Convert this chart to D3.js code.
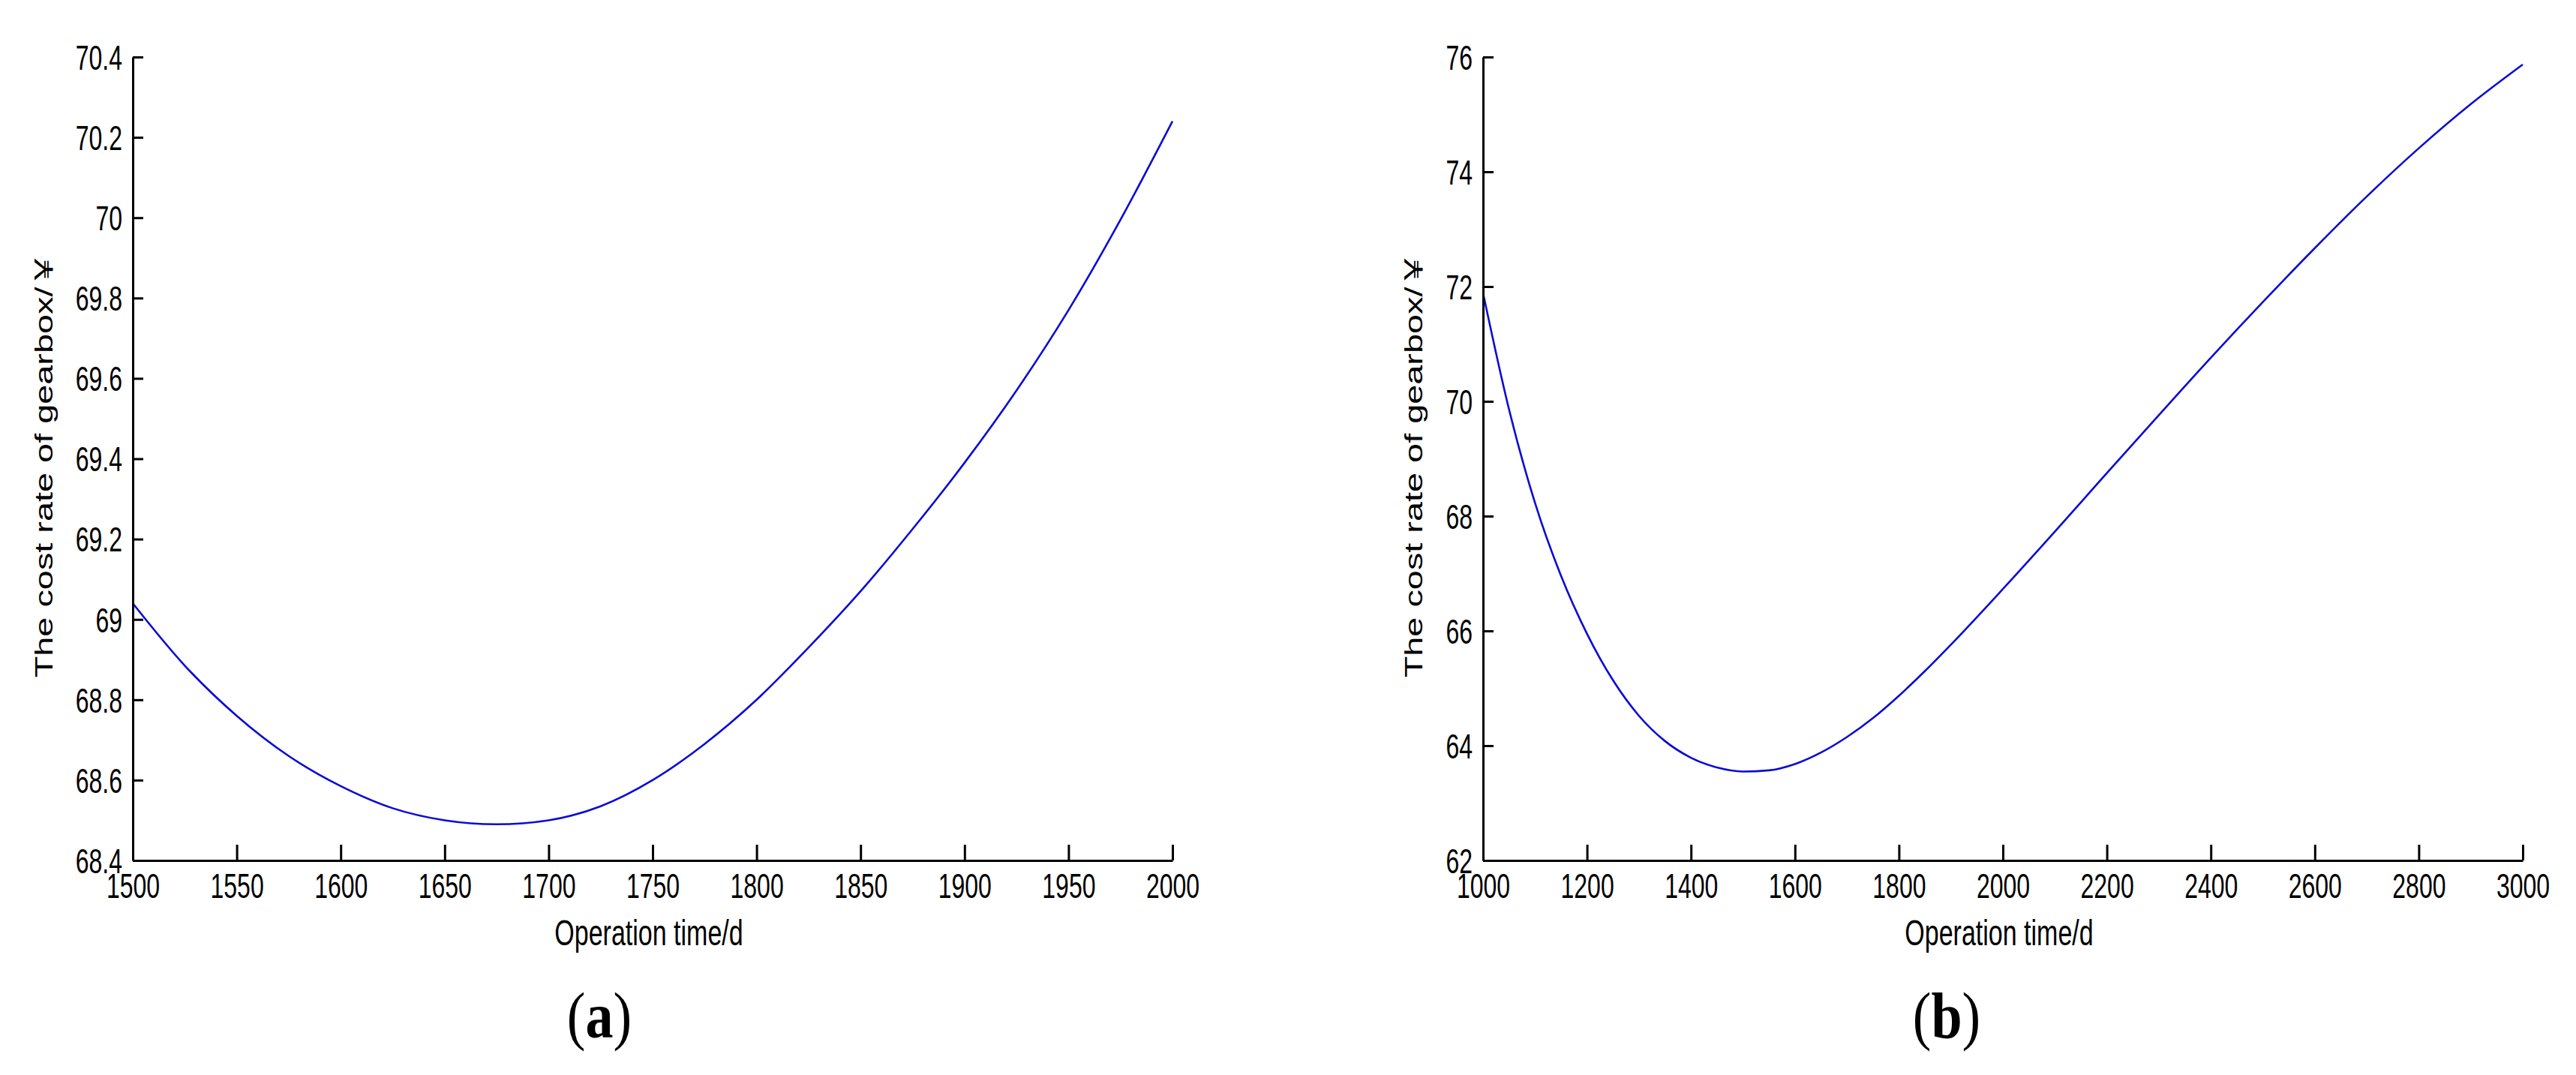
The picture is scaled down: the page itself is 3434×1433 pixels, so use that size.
<!DOCTYPE html>
<html>
<head>
<meta charset="utf-8">
<script src="https://cdn.jsdelivr.net/npm/d3@7"></script>
<style>
  html, body { margin: 0; padding: 0; background: #ffffff; }
  svg { display: block; }
</style>
</head>
<body>
<svg id="chart" width="3434" height="1433"></svg>
<script>
// ---------- data ----------
// Panel (a)
const timeA = [1500, 1525, 1550, 1575, 1600, 1625, 1650, 1675, 1700, 1725, 1750,
               1775, 1800, 1825, 1850, 1875, 1900, 1925, 1950, 1975, 2000];
const costA = [69.04, 68.885, 68.76, 68.66, 68.585, 68.53, 68.50, 68.49, 68.50, 68.535, 68.60,
               68.69, 68.80, 68.93, 69.07, 69.225, 69.39, 69.57, 69.77, 69.995, 70.24];
const xTicksA = [1500, 1550, 1600, 1650, 1700, 1750, 1800, 1850, 1900, 1950, 2000];
const yTicksA = [68.4, 68.6, 68.8, 69, 69.2, 69.4, 69.6, 69.8, 70, 70.2, 70.4];

// Panel (b)
const timeB = [1000, 1050, 1100, 1150, 1200, 1250, 1300, 1350, 1400, 1450, 1500, 1550, 1600,
               1650, 1700, 1750, 1800, 1850, 1900, 2000, 2100, 2200, 2300, 2400, 2500, 2600,
               2700, 2800, 2900, 3000];
const costB = [71.89, 69.86, 68.23, 66.96, 65.95, 65.14, 64.52, 64.08, 63.79, 63.62, 63.55, 63.57, 63.68,
               63.88, 64.15, 64.48, 64.87, 65.30, 65.76, 66.73, 67.73, 68.75, 69.76, 70.76, 71.73, 72.67,
               73.57, 74.41, 75.18, 75.87];
const xTicksB = [1000, 1200, 1400, 1600, 1800, 2000, 2200, 2400, 2600, 2800, 3000];
const yTicksB = [62, 64, 66, 68, 70, 72, 74, 76];

const xLabelText = "Operation time/d";
const yLabelText = "The cost rate of gearbox/\uFFE5";
const panelLetters = ["a", "b"];

// ---------- layout / style ----------
const SANS = "'Liberation Sans', Arial, 'Noto Sans CJK SC', sans-serif";
const SERIF = "'Liberation Serif', 'Times New Roman', serif";
const K = 1.42;               // vertical stretch of the original bitmap text
const PLOT_W = 1386, TOP = 76, BOTTOM = 1147;
const LINE_COLOR = "#0b0bd6";

const svg = d3.select("#chart");
svg.append("rect").attr("width", 3434).attr("height", 1433).attr("fill", "#fff");

function panel(o) {
  const x = d3.scaleLinear().domain(d3.extent(o.xTicks)).range([o.left, o.left + PLOT_W]);
  const y = d3.scaleLinear().domain(d3.extent(o.yTicks)).range([BOTTOM, TOP]);
  const g = svg.append("g");

  // curve
  g.append("path")
    .datum(o.time.map((t, i) => [t, o.cost[i]]))
    .attr("fill", "none")
    .attr("stroke", LINE_COLOR)
    .attr("stroke-width", 2.6)
    .attr("stroke-linejoin", "round")
    .attr("d", d3.line().x(d => x(d[0])).y(d => y(d[1])).curve(d3.curveMonotoneX));

  // x axis
  const ax = g.append("g")
    .attr("transform", `translate(0,${BOTTOM})`)
    .call(d3.axisBottom(x).tickValues(o.xTicks).tickSizeInner(-21).tickSizeOuter(0)
      .tickFormat(d3.format("d")));
  ax.attr("font-family", SANS).attr("font-size", 32);
  ax.select(".domain").attr("stroke", "#000").attr("stroke-width", 3);
  ax.selectAll(".tick line").attr("stroke", "#000").attr("stroke-width", 3);
  ax.selectAll(".tick text")
    .attr("y", 0).attr("dy", null).attr("fill", "#000")
    .attr("transform", `translate(0,50) scale(1,${K})`);

  // y axis
  const ay = g.append("g")
    .attr("transform", `translate(${o.left},0)`)
    .call(d3.axisLeft(y).tickValues(o.yTicks).tickSizeInner(-14).tickSizeOuter(0)
      .tickFormat(d => String(d)));
  ay.attr("font-family", SANS).attr("font-size", 32);
  ay.select(".domain").attr("stroke", "#000").attr("stroke-width", 3);
  ay.selectAll(".tick line").attr("stroke", "#000").attr("stroke-width", 3);
  ay.selectAll(".tick text")
    .attr("x", 0).attr("dy", "0.36em").attr("fill", "#000")
    .attr("transform", `translate(-14,0) scale(1,${K})`);

  // y label position relative to widest tick label
  let maxW = 0;
  ay.selectAll(".tick text").each(function () { maxW = Math.max(maxW, this.getBBox().width); });
  const yLabCenter = o.left - 14 - maxW - 43;

  g.append("text")
    .attr("font-family", SANS).attr("font-size", 33).attr("fill", "#000")
    .attr("text-anchor", "middle")
    .attr("transform", `translate(${yLabCenter + 12},${(TOP + BOTTOM) / 2 + 8}) scale(1,${K}) rotate(-90)`)
    .text(yLabelText);

  // x label
  g.append("text")
    .attr("font-family", SANS).attr("font-size", 34).attr("fill", "#000")
    .attr("text-anchor", "middle")
    .attr("transform", `translate(${o.left + PLOT_W / 2 - 5},1260) scale(1,${K})`)
    .text(xLabelText);

  // panel letter
  const t = g.append("text")
    .attr("font-family", SERIF).attr("font-size", 74).attr("fill", "#000")
    .attr("text-anchor", "middle")
    .attr("transform", `translate(${o.letterX},1383) scale(1,1.18)`);
  t.append("tspan").text("(");
  t.append("tspan").attr("font-weight", "bold").text(o.letter);
  t.append("tspan").text(")");
}

panel({ left: 177, time: timeA, cost: costA, xTicks: xTicksA, yTicks: yTicksA, letter: panelLetters[0], letterX: 799 });
panel({ left: 1977, time: timeB, cost: costB, xTicks: xTicksB, yTicks: yTicksB, letter: panelLetters[1], letterX: 2595 });
</script>
</body>
</html>
